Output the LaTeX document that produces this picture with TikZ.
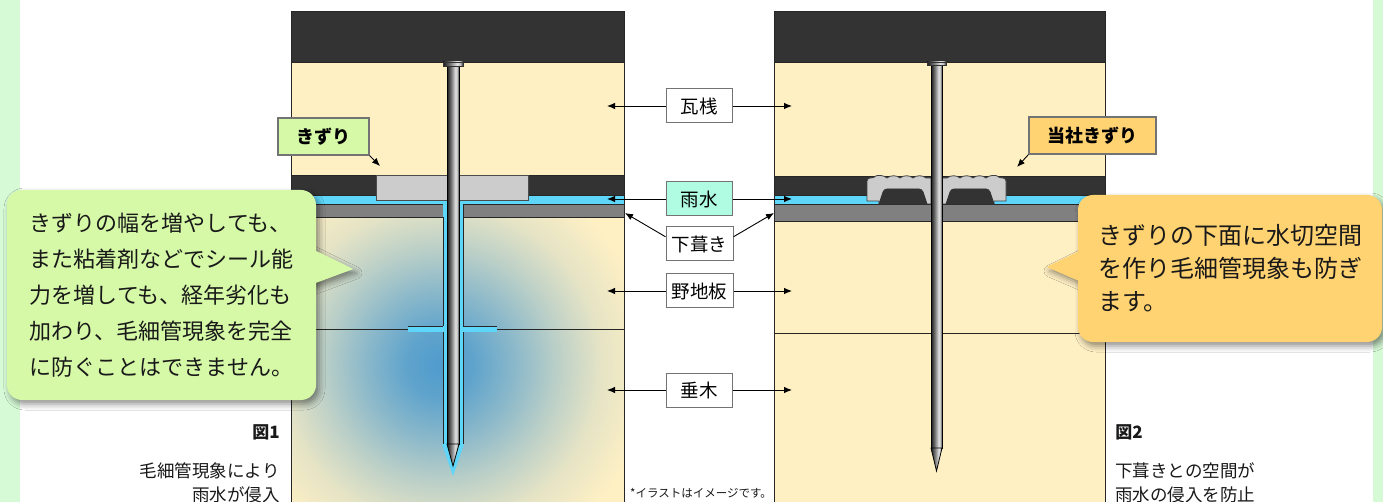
\documentclass[tikz,border=0pt]{standalone}
\usepackage{fontspec}
\setmainfont{Noto Sans CJK JP}
\usetikzlibrary{arrows.meta, shadows.blur}

\definecolor{mint}{RGB}{214,250,214}
\definecolor{wood}{RGB}{255,240,196}
\definecolor{roof}{RGB}{51,51,51}
\definecolor{rain}{RGB}{94,214,250}
\definecolor{sheet}{RGB}{128,128,128}
\definecolor{batten}{RGB}{204,204,204}
\definecolor{rainbox}{RGB}{176,252,227}
\definecolor{leafy}{RGB}{214,249,168}
\definecolor{amber}{RGB}{255,210,114}
\definecolor{glowblue}{RGB}{78,155,205}

% water soaking into the boards
\pgfdeclareradialshading{seep}{\pgfpoint{0bp}{0bp}}{%
  color(0bp)=(glowblue); color(4bp)=(glowblue!90!wood);
  color(9bp)=(glowblue!65!wood); color(14bp)=(glowblue!38!wood);
  color(19bp)=(glowblue!15!wood); color(25bp)=(wood); color(50bp)=(wood)}
% nail steel
\pgfdeclarehorizontalshading{steel}{100bp}{%
  color(0bp)=(black!90); color(25bp)=(black!90); color(42bp)=(black!55);
  color(60bp)=(black!12); color(68bp)=(black!25); color(75bp)=(black!85);
  color(100bp)=(black!85)}

% one half of the shaped batten, left of the nail
\newcommand{\gasketside}{%
  \filldraw[fill=batten, draw=black!75]
    (879,201) -- (867,201) [rounded corners=3pt] -- (867,178) -- (874,178) [sharp corners]
    .. controls (877,175) and (884,175) .. (887,178)
    .. controls (890,175) and (897,175) .. (900,178)
    .. controls (903,175) and (910,175) .. (913,178)
    .. controls (916,175) and (923,175) .. (926,178)
    -- (931,178) -- (931,204) -- (879,204) -- cycle;
  \filldraw[fill=roof, draw=black!80, rounded corners=3pt]
    (879,204) -- (884,189) -- (922,189) -- (927,204);
}

\begin{document}
\begin{tikzpicture}[x=1pt, y=-1pt, line width=0.8pt,
    edge/.style={draw=black!85},
    tag/.style={draw=black!55, fill=white, line width=1pt, minimum width=66pt, minimum height=34pt, inner sep=0pt, font=\fontsize{18.5}{20}\selectfont},
    marker/.style={draw=black!55, line width=1.2pt, minimum height=37pt, inner sep=0pt, font=\fontsize{18}{20}\selectfont\bfseries},
    arrow/.style={-{Latex[length=8pt,width=6.5pt]}, line width=0.9pt},
    bubble/.style={rounded corners=15pt, align=left, inner sep=0pt, text=black!90,
      blur shadow={shadow xshift=3pt, shadow yshift=-4pt, shadow blur radius=6pt, shadow opacity=45}},
    caption/.style={inner sep=0pt, text=black!90, font=\fontsize{17.5}{24}\selectfont}
]

% backdrop
\fill[white] (0,0) rectangle (1383,502);
\useasboundingbox (0,0) rectangle (1383,502);
\fill[mint] (0,0) rectangle (20,502);
\fill[mint] (1373,0) rectangle (1383,502);

% section 1: flat batten
\fill[wood] (291,11) rectangle (624,502);
\begin{scope}
  \clip (291,217) rectangle (624,502);
  \shade[shading=seep] (440,365) circle[radius=210];
\end{scope}
\filldraw[fill=roof, edge] (291,11) rectangle (624,62);
\filldraw[fill=roof, edge] (291,175) rectangle (624,195);
\filldraw[fill=rain, edge] (291,195) rectangle (624,204);
\filldraw[fill=sheet, edge] (291,204) rectangle (443,217);
\filldraw[fill=sheet, edge] (463,204) rectangle (624,217);
% water creeping down the nail
\fill[rain] (443,200) rectangle (463,444);
\fill[rain] (442,444) -- (464,444) -- (453,476) -- cycle;
\fill[rain] (408,326) rectangle (497,332);
\draw[edge] (443,217) -- (443,326) (443,332) -- (443,444);
\draw[edge] (463,217) -- (463,326) (463,332) -- (463,444);
\draw[edge] (291,329) -- (408,329) (497,329) -- (624,329);
\draw[edge] (408,326) -- (443,326) (463,326) -- (497,326);
\filldraw[fill=batten, draw=black!70] (376,175) rectangle (528,200);
\shadedraw[shading=steel, draw=black] (447,66) rectangle (459,444);
\shadedraw[shading=steel, draw=black] (447,444) -- (459,444) -- (453,466) -- cycle;
\shadedraw[shading=steel, draw=black!80] (443,62) rectangle (463,66);
\draw[edge] (291,502) -- (291,11) -- (624,11) -- (624,502);

% section 2: shaped batten
\fill[wood] (774,11) rectangle (1105,502);
\filldraw[fill=roof, edge] (774,11) rectangle (1105,62);
\filldraw[fill=roof, edge] (774,176) rectangle (1105,195);
\filldraw[fill=rain, edge] (774,195) rectangle (1105,204);
\filldraw[fill=sheet, edge] (774,204) rectangle (1105,221);
\draw[edge] (774,333) -- (1105,333);
\gasketside
\begin{scope}[shift={(1873,0)}, xscale=-1]
  \gasketside
\end{scope}
\shadedraw[shading=steel, draw=black] (931,65) rectangle (942,448);
\shadedraw[shading=steel, draw=black] (931,448) -- (942,448) -- (936.5,471) -- cycle;
\shadedraw[shading=steel, draw=black!80] (927,62) rectangle (946,65);
\draw[edge] (774,502) -- (774,11) -- (1105,11) -- (1105,502);

% layer names
\node[tag] (kawa) at (699,106) {瓦桟};
\node[tag, fill=rainbox] (rain) at (699,199) {雨水};
\node[tag, minimum width=67pt] (shita) at (699.5,244) {下葺き};
\node[tag, minimum width=67pt] (noji) at (699.5,291) {野地板};
\node[tag] (taru) at (699,390) {垂木};
\foreach \n/\y in {kawa/106, rain/199, noji/291, taru/390} {
  \coordinate (\n-l) at (607,\y);
  \coordinate (\n-r) at (792,\y);
  \draw[arrow] (\n) -- (\n-l);
  \draw[arrow] (\n) -- (\n-r);
}
\coordinate (shita-l) at (625,213);
\coordinate (shita-r) at (774,213);
\draw[arrow] (shita.168) -- (shita-l);
\draw[arrow] (shita.12) -- (shita-r);

% batten labels
\node[marker, fill=leafy, minimum width=91pt] (kizuri) at (323.5,136.5) {きずり};
\coordinate (kizuri-tip) at (380,166);
\draw[arrow] (kizuri.south east) -- (kizuri-tip);
\node[marker, fill=amber, minimum width=127pt] (ours) at (1092.5,135.5) {当社きずり};
\coordinate (ours-tip) at (1017,167);
\draw[arrow] (ours.south west) -- (ours-tip);

% left note
\fill[leafy, blur shadow={shadow xshift=3pt, shadow yshift=-4pt, shadow blur radius=6pt, shadow opacity=45}]
  (310,248) -- (353,269) -- (310,285) -- cycle;
\node[bubble, fill=leafy, minimum width=309pt, minimum height=210pt, font=\fontsize{22}{36}\selectfont] (leak) at (161.5,295)
  {きずりの幅を増やしても、\\また粘着剤などでシール能\\力を増しても、経年劣化も\\加わり、毛細管現象を完全\\に防ぐことはできません。};
\fill[leafy] (310,248) -- (353,269) -- (310,285) -- cycle;

% right note
\fill[amber, blur shadow={shadow xshift=3pt, shadow yshift=-4pt, shadow blur radius=6pt, shadow opacity=45}]
  (1084,249) -- (1047,267) -- (1084,283) -- cycle;
\node[bubble, fill=amber, minimum width=304pt, minimum height=147pt, font=\fontsize{24}{33}\selectfont] (seal) at (1230,268.5)
  {きずりの下面に水切空間\\を作り毛細管現象も防ぎ\\ます。};
\fill[amber] (1084,249) -- (1047,267) -- (1084,283) -- cycle;

% captions
\node[caption, anchor=east, font=\fontsize{17}{20}\selectfont\bfseries] (fig1) at (280,432) {図1};
\node[caption, anchor=east, align=right] (fig1-note) at (280,483) {毛細管現象により\\雨水が侵入};
\node[caption, anchor=west, font=\fontsize{17}{20}\selectfont\bfseries] (fig2) at (1115,432) {図2};
\node[caption, anchor=west, align=left] (fig2-note) at (1115,482.5) {下葺きとの空間が\\雨水の侵入を防止};
\node[inner sep=0pt, text=black!90, font=\fontsize{11.5}{13}\selectfont] (disclaimer) at (701,493) {*イラストはイメージです。};

\end{tikzpicture}
\end{document}
